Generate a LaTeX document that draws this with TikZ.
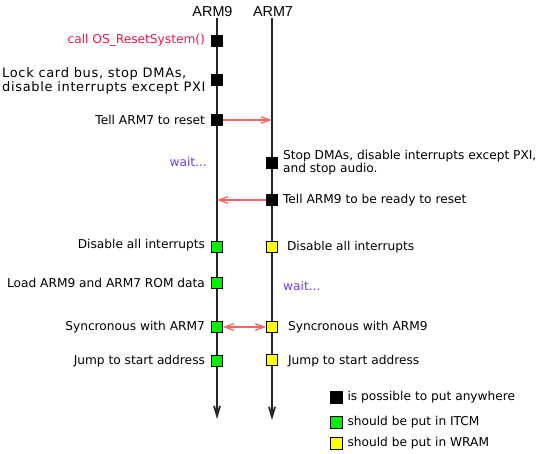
\documentclass[tikz,border=0pt]{standalone}
\usepackage{fontspec}
\setmainfont{DejaVu Sans}
\newfontfamily\headfont{Liberation Sans}
\usetikzlibrary{arrows.meta,positioning}
\definecolor{msgred}{HTML}{FF6464}
\definecolor{callred}{HTML}{FF1048}
\definecolor{waitblue}{HTML}{6A3CFF}
\definecolor{itcmgreen}{HTML}{00F000}
\definecolor{wramyellow}{HTML}{FFFF00}
\newcommand\bodysize{\fontsize{12.2}{13}\selectfont}
\newcommand\bigsize{\fontsize{13}{12.5}\selectfont\addfontfeatures{LetterSpace=5}}
\newcommand\headsize{\headfont\fontsize{14.4}{16}\selectfont}
\begin{document}
\begin{tikzpicture}[x=1pt,y=-1pt,
		every node/.style={inner sep=0pt,font=\bodysize},
		box/.style={draw=black,line width=0.7pt,minimum size=11pt},
		anyw/.style={box,fill=black},
		itcm/.style={box,fill=itcmgreen},
		wram/.style={box,fill=wramyellow},
		life/.style={line width=1.8pt,draw=black!85,-{Straight Barb[length=10pt,width=6pt]}},
		msg/.style={line width=1.3pt,draw=msgred,-{Straight Barb[length=9pt,width=6.5pt]}},
		wait/.style={text=waitblue}]
		\useasboundingbox (0,0) rectangle (540,454);
		% headers and lifelines
		\node[font=\headsize] (arm9) at (212.5,12) {ARM9};
		\node[font=\headsize] (arm7) at (273,12) {ARM7};
		\coordinate (top9) at (217,18);
		\coordinate (end9) at (217,419);
		\coordinate (top7) at (272,18);
		\coordinate (end7) at (272,420);
		\draw[life] (top9) -- (end9);
		\draw[life] (top7) -- (end7);
		
		% ARM9 side
		\node[anyw] (call9) at (217,40.5) {};
		\node[anyw] (lock9) at (217,80) {};
		\node[anyw] (tell9) at (217,120) {};
		\node[itcm] (dis9) at (217,246.5) {};
		\node[itcm] (load9) at (217,283) {};
		\node[itcm] (sync9) at (217,327) {};
		\node[itcm] (jump9) at (217,361) {};
		\node[left=6pt of call9,text=callred] (calltxt) {call OS\_ResetSystem()};
		\node[anchor=west,align=left,font=\bigsize] (locktxt) at (2,81) {Lock card bus, stop DMAs,\\disable interrupts except PXI};
		\node[left=6pt of tell9] (telltxt9) {Tell ARM7 to reset};
		\node[wait,anchor=east] (wait9) at (207,162) {wait...};
		\node[left=6pt of dis9,yshift=1.5pt] (distxt9) {Disable all interrupts};
		\node[left=6pt of load9] (loadtxt) {Load ARM9 and ARM7 ROM data};
		\node[left=6pt of sync9] (synctxt9) {Syncronous with ARM7};
		\node[left=6pt of jump9] (jumptxt9) {Jump to start address};
		
		% ARM7 side
		\node[anyw] (stop7) at (272,162.5) {};
		\node[anyw] (tell7) at (272,200) {};
		\node[wram] (dis7) at (272,247) {};
		\node[wram] (sync7) at (272,327) {};
		\node[wram] (jump7) at (272,360) {};
		\node[right=5pt of stop7,align=left] (stoptxt) {Stop DMAs, disable interrupts except PXI,\\and stop audio.};
		\node[right=5pt of tell7] (telltxt7) {Tell ARM9 to be ready to reset};
		\node[right=9pt of dis7] (distxt7) {Disable all interrupts};
		\node[wait,anchor=west] (wait7) at (283,286) {wait...};
		\node[right=10pt of sync7] (synctxt7) {Syncronous with ARM9};
		\node[right=10pt of jump7,yshift=-1.5pt] (jumptxt7) {Jump to start address};
		
		% messages
		\draw[msg] (tell9.east) -- (tell9.east -| top7);
		\draw[msg] (tell7.west) -- (tell7.west -| top9);
		\draw[msg,{Straight Barb[length=9pt,width=6.5pt]}-{Straight Barb[length=9pt,width=6.5pt]}] (sync9.east) -- (sync7.west);
		
		% legend
		\node[anyw,minimum size=12pt] (keyany) at (336,397) {};
		\node[itcm,minimum size=12pt] (keyitcm) at (336,422.5) {};
		\node[wram,minimum size=12pt] (keywram) at (336,443.5) {};
		\node[right=5pt of keyany] {is possible to put anywhere};
		\node[right=5pt of keyitcm] {should be put in ITCM};
		\node[right=5pt of keywram] {should be put in WRAM};
\end{tikzpicture}
\end{document}
